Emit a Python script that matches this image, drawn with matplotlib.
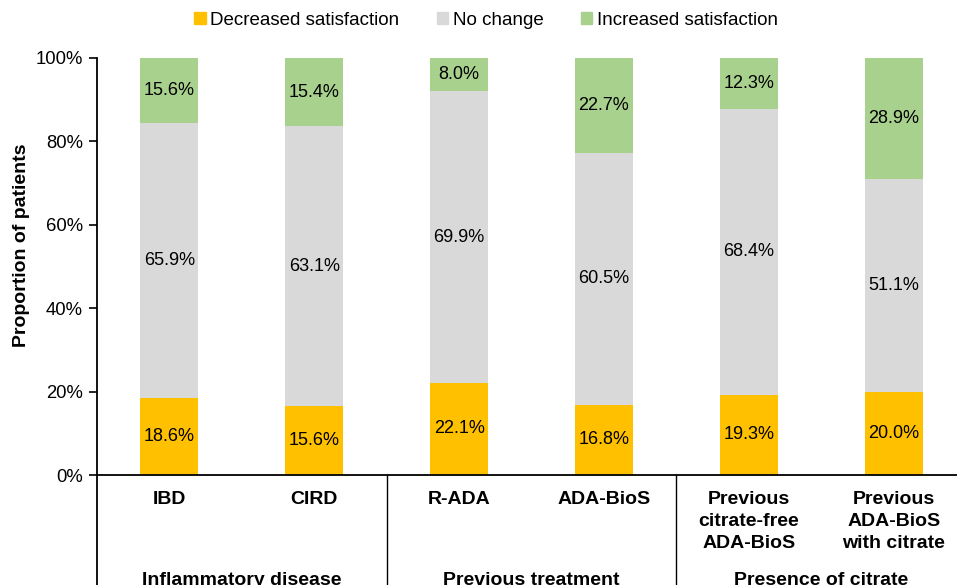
import numpy as np
from matplotlib import pyplot as plt
from matplotlib.patches import Patch
from matplotlib.ticker import FuncFormatter

plt.rcParams['font.family'] = ['Liberation Sans', 'DejaVu Sans']

categories = ['IBD', 'CIRD', 'R-ADA', 'ADA-BioS',
              'Previous\ncitrate-free\nADA-BioS', 'Previous\nADA-BioS\nwith citrate']
groups = ['Inflammatory disease', 'Previous treatment', 'Presence of citrate']
series_names = ['Decreased satisfaction', 'No change', 'Increased satisfaction']

decreased = [18.6, 15.6, 22.1, 16.8, 19.3, 20.0]
no_change = [65.9, 63.1, 69.9, 60.5, 68.4, 51.1]
increased = [15.6, 15.4, 8.0, 22.7, 12.3, 28.9]

colors = ['#FFC000', '#D9D9D9', '#A9D18E']

raw = np.array([decreased, no_change, increased])
# bars are drawn as share of the total (labels show the reported values)
shares = raw / raw.sum(axis=0) * 100

fig = plt.figure(figsize=(9.57, 5.85), dpi=100)
ax = fig.add_axes([97 / 957, 110 / 585, 869 / 957, 417 / 585])

x = np.arange(len(categories))
bottom = np.zeros(len(categories))
for i in range(3):
    ax.bar(x, shares[i], 0.4, bottom=bottom, color=colors[i], zorder=2)
    for xi, b, h, v in zip(x, bottom, shares[i], raw[i]):
        ax.text(xi, b + h / 2, f'{v:.1f}%', ha='center', va='center', fontsize=13)
    bottom += shares[i]

ax.set_xlim(-0.5, 5.5)
ax.set_ylim(0, 100)
ax.set_yticks(np.arange(0, 101, 20))
ax.yaxis.set_major_formatter(FuncFormatter(lambda v, pos: f'{v:.0f}%'))
ax.tick_params(axis='y', labelsize=13.3, length=6, width=1.2, direction='out', pad=4)
ax.set_xticks([])
for s in ['top', 'right']:
    ax.spines[s].set_visible(False)
for s in ['left', 'bottom']:
    ax.spines[s].set_linewidth(1.3)
ax.set_ylabel('Proportion of patients', fontsize=14, fontweight='bold')
ax.yaxis.set_label_coords(-0.077, 0.55)

# category labels and group separators below the axis
for xi, c in zip(x, categories):
    ax.text(xi, -0.038, c, transform=ax.get_xaxis_transform(), ha='center', va='top',
            fontsize=14, fontweight='bold', linespacing=1.38)
for sep in [-0.5, 1.5, 3.5]:
    ax.plot([sep, sep], [0, -0.3], transform=ax.get_xaxis_transform(), color='black',
            lw=1.0 if sep > 0 else 1.3, clip_on=False)
for gi, g in enumerate(groups):
    ax.text(gi * 2 + 0.5, -0.252, g, transform=ax.get_xaxis_transform(), ha='center',
            va='center', fontsize=14, fontweight='bold')

handles = [Patch(color=c) for c in colors]
fig.legend(handles, series_names, loc='center', bbox_to_anchor=(0.508, 0.965), ncol=3,
           frameon=False, fontsize=13.5, handlelength=0.6, handleheight=0.6,
           handletextpad=0.25, columnspacing=2.0)

plt.savefig('out.png', dpi=100)
